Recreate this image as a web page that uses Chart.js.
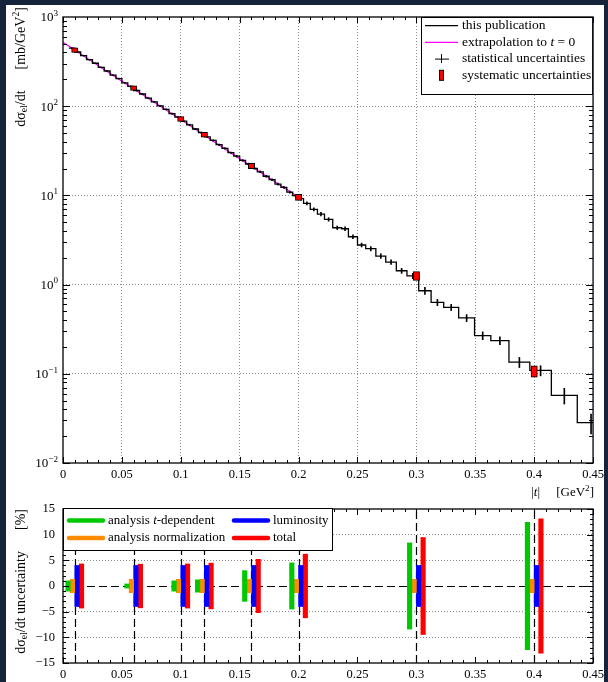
<!DOCTYPE html>
<html>
<head>
<meta charset="utf-8">
<script src="https://cdn.jsdelivr.net/npm/chart.js@4.4.0/dist/chart.umd.min.js"></script>
<style>
  body { margin: 0; width: 608px; height: 682px; overflow: hidden; position: relative; background: #15233b; }
  #paper { position: absolute; left: 6px; top: 5px; width: 598px; height: 677px; background: #fff; }
  #top { position: absolute; left: 0; top: 0; }
  #bot { position: absolute; left: 0; top: 493px; }
</style>
</head>
<body>
<div id="paper"></div>
<canvas id="top" width="608" height="500"></canvas>
<canvas id="bot" width="608" height="189"></canvas>
<script>
// |t| bin edges [GeV^2] of the measured distribution
const binEdges = [
  0.005, 0.010, 0.015, 0.020, 0.025, 0.030, 0.035, 0.040, 0.045, 0.050,
  0.055, 0.060, 0.065, 0.070, 0.075, 0.080, 0.085, 0.090, 0.095, 0.100,
  0.105, 0.110, 0.115, 0.120, 0.125, 0.130, 0.135, 0.140, 0.145, 0.150,
  0.155, 0.160, 0.165, 0.170, 0.175, 0.180, 0.185, 0.190, 0.195, 0.200,
  0.2042, 0.2099, 0.2160, 0.2220, 0.2290, 0.2366, 0.2423, 0.2500, 0.2570, 0.2656,
  0.2740, 0.2830, 0.2920, 0.3020, 0.3125, 0.3232, 0.3359, 0.3494, 0.3632, 0.3786,
  0.3963, 0.4146, 0.4366, 0.4600
];
// dsigma/dt per bin [mb/GeV^2]
const dsdt = [
  448, 405, 369, 332, 303, 272, 248, 223, 204, 183,
  167, 150, 137, 123, 112, 101, 92.0, 82.6, 75.3, 68.1,
  61.9, 55.5, 50.6, 45.3, 41.3, 37.0, 33.7, 30.1, 27.5, 24.7,
  22.5, 20.1, 18.4, 16.4, 15.0, 13.4, 12.3, 10.9, 9.95,
  9.18, 8.13, 6.97, 6.18, 5.38, 4.34, 4.23, 3.44, 2.78, 2.53,
  2.09, 1.79, 1.43, 1.25, 0.853, 0.632, 0.556, 0.423, 0.268, 0.236,
  0.135, 0.109, 0.0573, 0.0283
];
// statistical uncertainty per bin [%]
const statUnc = [
  1.2, 1.0, 1.0, 1.0, 1.0, 1.0, 1.1, 1.1, 1.1, 1.1,
  1.2, 1.2, 1.2, 1.3, 1.3, 1.3, 1.4, 1.4, 1.5, 1.5,
  1.6, 1.6, 1.7, 1.7, 1.8, 1.8, 1.9, 1.9, 2.0, 2.1,
  2.2, 2.2, 2.3, 2.4, 2.5, 2.6, 2.7, 2.8, 2.9,
  3.5, 4, 4, 4.5, 4.5, 4.5, 5, 5, 5, 5.5,
  6, 6, 6.5, 7, 9, 8, 8, 9, 10, 10,
  13, 13, 20, 25
];
// extrapolation to t = 0
const extrapT = [0, 0.05, 0.10, 0.15, 0.20];
const extrapVal = [520, 190, 70.8, 25.7, 9.55];

// points where the systematics are shown
const pointT = [0.01, 0.06, 0.10, 0.12, 0.16, 0.20, 0.30, 0.40];
const pointVal = [425, 160, 72.0, 47.9, 21.4, 9.50, 1.255, 0.107];
const uncTdep = [1.0, 0.4, 1.0, 1.2, 3.0, 4.5, 8.4, 12.4];
const uncNorm = [1.3, 1.3, 1.3, 1.3, 1.3, 1.3, 1.3, 1.3];
const uncLumi = [4.0, 4.0, 4.0, 4.0, 4.0, 4.0, 4.0, 4.0];
const uncTotal = [4.3, 4.25, 4.3, 4.45, 5.2, 6.2, 9.45, 13.1];

const xTicks = [0, 0.05, 0.1, 0.15, 0.2, 0.25, 0.3, 0.35, 0.4, 0.45];
const yDecades = [0.01, 0.1, 1, 10, 100, 1000];
const yPctTicks = [-15, -10, -5, 0, 5, 10, 15];

const FONT = '"Liberation Serif", "Times New Roman", serif';
const GRID = '#8c8c8c';
const NONE = 'rgba(0,0,0,0)';

// draw a piece of text made of several parts (normal / italic / sup / sub)
function drawRich(ctx, parts, x, y, size, align) {
  const fonts = parts.map(p => {
    const k = p[1] || '';
    const s = (k === 'sup' || k === 'sub') ? size * 0.7 : size;
    return (k === 'i' ? 'italic ' : '') + s + 'px ' + FONT;
  });
  let w = 0;
  parts.forEach((p, i) => { ctx.font = fonts[i]; w += ctx.measureText(p[0]).width; });
  let cx = align === 'right' ? x - w : (align === 'center' ? x - w / 2 : x);
  ctx.textAlign = 'left';
  ctx.textBaseline = 'middle';
  parts.forEach((p, i) => {
    const k = p[1] || '';
    const dy = k === 'sup' ? -size * 0.36 : (k === 'sub' ? size * 0.25 : 0);
    ctx.font = fonts[i];
    ctx.fillText(p[0], cx, y + dy);
    cx += ctx.measureText(p[0]).width;
  });
}

function frame(ctx, a) {
  ctx.lineWidth = 1.3;
  ctx.strokeStyle = '#000';
  ctx.strokeRect(a.left, a.top, a.right - a.left, a.bottom - a.top);
}

function xTickMarks(ctx, a, x) {
  ctx.beginPath();
  for (let i = 0; i <= 45; i++) {
    const px = Math.round(x.getPixelForValue(i / 100)) + 0.5;
    const len = i % 5 === 0 ? 6 : 3;
    ctx.moveTo(px, a.bottom); ctx.lineTo(px, a.bottom - len);
    ctx.moveTo(px, a.top); ctx.lineTo(px, a.top + len);
  }
  ctx.stroke();
}

// ---------- top panel ----------
const histPts = dsdt.map((v, i) => ({ x: binEdges[i], y: v }));
histPts.push({ x: binEdges[binEdges.length - 1], y: dsdt[dsdt.length - 1] });

const statBars = dsdt.map((v, i) => ({
  x: (binEdges[i] + binEdges[i + 1]) / 2,
  y: [v * (1 - statUnc[i] / 100), v * (1 + statUnc[i] / 100)]
}));
const systBars = pointT.map((t, i) => ({
  x: t,
  y: [pointVal[i] * (1 - uncTotal[i] / 100), pointVal[i] * (1 + uncTotal[i] / 100)]
}));

const topDecor = {
  id: 'topDecor',
  afterDraw(chart) {
    const { ctx, chartArea: a, scales: { x, y } } = chart;
    ctx.save();
    ctx.strokeStyle = '#000';
    ctx.lineWidth = 1;
    xTickMarks(ctx, a, x);
    ctx.beginPath();
    for (let d = -2; d <= 2; d++) {
      for (let m = 1; m <= 9; m++) {
        const py = Math.round(y.getPixelForValue(m * Math.pow(10, d))) + 0.5;
        const len = m === 1 ? 7 : 4;
        ctx.moveTo(a.left, py); ctx.lineTo(a.left + len, py);
        ctx.moveTo(a.right, py); ctx.lineTo(a.right - len, py);
      }
    }
    ctx.stroke();
    frame(ctx, a);

    ctx.fillStyle = '#000';
    yDecades.forEach(v => {
      const e = Math.round(Math.log10(v));
      drawRich(ctx, [['10'], [e < 0 ? '\u2212' + (-e) : String(e), 'sup']], a.left - 5, y.getPixelForValue(v) + 1, 13, 'right');
    });

    // axis titles
    drawRich(ctx, [['|'], ['t', 'i'], ['|     [GeV'], ['2', 'sup'], [']']], 594, 493, 13, 'right');
    ctx.save();
    ctx.translate(21, 7);
    ctx.rotate(-Math.PI / 2);
    drawRich(ctx, [['d\u03C3'], ['el', 'sub'], ['/dt      [mb/GeV'], ['2', 'sup'], [']']], 0, 0, 14, 'right');
    ctx.restore();

    // legend
    const lx = 421, ly = a.top;
    ctx.fillStyle = '#fff';
    ctx.fillRect(lx, ly, a.right - lx, 95 - ly);
    ctx.lineWidth = 1;
    ctx.strokeStyle = '#000';
    ctx.strokeRect(lx + 0.5, ly + 0.5, a.right - lx - 1, 95 - ly - 1);
    const rows = [25.7, 42.3, 58.6, 75.3];
    ctx.lineWidth = 1.3;
    ctx.beginPath(); ctx.moveTo(425, rows[0]); ctx.lineTo(458, rows[0]); ctx.stroke();
    ctx.strokeStyle = '#ff00ff';
    ctx.beginPath(); ctx.moveTo(425, rows[1]); ctx.lineTo(458, rows[1]); ctx.stroke();
    ctx.strokeStyle = '#000';
    ctx.lineWidth = 1;
    ctx.beginPath();
    ctx.moveTo(435, rows[2] + 0.5); ctx.lineTo(449, rows[2] + 0.5);
    ctx.moveTo(441.5, rows[2] - 4.5); ctx.lineTo(441.5, rows[2] + 4.5);
    ctx.stroke();
    ctx.fillStyle = '#ff0000';
    ctx.fillRect(439.5, rows[3] - 5, 4, 10);
    ctx.strokeRect(439.5, rows[3] - 5, 4, 10);
    ctx.fillStyle = '#000';
    drawRich(ctx, [['this publication']], 462, rows[0], 13.5, 'left');
    drawRich(ctx, [['extrapolation to '], ['t', 'i'], [' = 0']], 462, rows[1], 13.5, 'left');
    drawRich(ctx, [['statistical uncertainties']], 462, rows[2], 13.5, 'left');
    drawRich(ctx, [['systematic uncertainties']], 462, rows[3], 13.5, 'left');
    ctx.restore();
  }
};

new Chart(document.getElementById('top'), {
  type: 'bar',
  data: {
    datasets: [
      { type: 'line', data: extrapT.map((t, i) => ({ x: t, y: extrapVal[i] })), borderColor: '#ff00ff', borderWidth: 1.2, pointRadius: 0, order: 4 },
      { type: 'line', data: histPts, stepped: true, borderColor: '#000', borderWidth: 1.3, pointRadius: 0, order: 3 },
      { type: 'bar', data: statBars, backgroundColor: '#000', barThickness: 1, grouped: false, order: 2 },
      { type: 'bar', data: systBars, backgroundColor: '#ff0000', borderColor: '#000', borderWidth: 1, borderSkipped: false, inflateAmount: 1, barThickness: 5, grouped: false, order: 1 }
    ]
  },
  options: {
    responsive: false,
    animation: false,
    layout: { padding: { left: 0, top: 17, right: 12, bottom: 0 } },
    plugins: { legend: { display: false }, tooltip: { enabled: false } },
    scales: {
      x: {
        type: 'linear', min: 0, max: 0.45, offset: false,
        afterBuildTicks: s => { s.ticks = xTicks.map(v => ({ value: v })); },
        afterFit: s => { s.height = 37; },
        ticks: { color: '#000', font: { family: FONT, size: 12.5 }, padding: 4, maxRotation: 0, autoSkip: false, callback: v => String(v) },
        grid: { offset: false, drawTicks: false, color: c => (c.tick && c.tick.value > 0 && c.tick.value < 0.45) ? GRID : NONE },
        border: { display: false, dash: [1, 2] }
      },
      y: {
        type: 'logarithmic', min: 0.01, max: 1000,
        afterBuildTicks: s => { s.ticks = yDecades.map(v => ({ value: v })); },
        afterFit: s => { s.width = 63; },
        ticks: { display: false },
        grid: { drawTicks: false, color: c => (c.tick && c.tick.value > 0.01 && c.tick.value < 1000) ? GRID : NONE },
        border: { display: false, dash: [1, 2] }
      }
    }
  },
  plugins: [topDecor]
});

// ---------- bottom panel ----------
const botDecor = {
  id: 'botDecor',
  beforeDatasetsDraw(chart) {
    const { ctx, chartArea: a, scales: { x, y } } = chart;
    ctx.save();
    ctx.strokeStyle = '#000';
    ctx.lineWidth = 1.2;
    ctx.setLineDash([8, 4]);
    ctx.beginPath();
    const y0 = Math.round(y.getPixelForValue(0)) + 0.5;
    ctx.moveTo(a.left, y0); ctx.lineTo(a.right, y0);
    pointT.forEach(t => {
      const px = Math.round(x.getPixelForValue(t)) + 0.5;
      ctx.moveTo(px, a.bottom); ctx.lineTo(px, a.top);
    });
    ctx.stroke();
    ctx.restore();
  },
  afterDraw(chart) {
    const { ctx, chartArea: a, scales: { x, y } } = chart;
    ctx.save();
    ctx.strokeStyle = '#000';
    ctx.lineWidth = 1;
    xTickMarks(ctx, a, x);
    ctx.beginPath();
    for (let v = -15; v <= 15; v++) {
      const py = Math.round(y.getPixelForValue(v)) + 0.5;
      const len = v % 5 === 0 ? 6 : 3;
      ctx.moveTo(a.left, py); ctx.lineTo(a.left + len, py);
      ctx.moveTo(a.right, py); ctx.lineTo(a.right - len, py);
    }
    ctx.stroke();
    frame(ctx, a);

    ctx.fillStyle = '#000';
    ctx.save();
    ctx.translate(21, a.top);
    ctx.rotate(-Math.PI / 2);
    drawRich(ctx, [['d\u03C3'], ['el', 'sub'], ['/dt uncertainty      [%]']], 0, 0, 14, 'right');
    ctx.restore();

    // legend
    const lx = a.left, ly = a.top - 1, rx = 333, by = a.top + 42;
    ctx.fillStyle = '#fff';
    ctx.fillRect(lx, ly, rx - lx, by - ly);
    ctx.lineWidth = 1;
    ctx.strokeStyle = '#000';
    ctx.strokeRect(lx + 0.5, ly + 0.5, rx - lx - 1, by - ly - 1);
    const r1 = a.top + 11.5, r2 = a.top + 29;
    const items = [
      { c: '#00c800', x: 68, y: r1, parts: [['analysis '], ['t', 'i'], ['-dependent']] },
      { c: '#ff8c00', x: 68, y: r2, parts: [['analysis normalization']] },
      { c: '#0000ff', x: 233, y: r1, parts: [['luminosity']] },
      { c: '#ff0000', x: 233, y: r2, parts: [['total']] }
    ];
    ctx.lineWidth = 4.5;
    ctx.lineCap = 'round';
    items.forEach(it => {
      ctx.strokeStyle = it.c;
      ctx.beginPath(); ctx.moveTo(it.x + 1, it.y); ctx.lineTo(it.x + 35, it.y); ctx.stroke();
      ctx.fillStyle = '#000';
      drawRich(ctx, it.parts, it.x + 40, it.y, 13, 'left');
    });
    ctx.restore();
  }
};

const pctBars = (arr) => pointT.map((t, i) => ({ x: t, y: [-arr[i], arr[i]] }));

new Chart(document.getElementById('bot'), {
  type: 'bar',
  data: {
    datasets: [
      { label: 'analysis t-dependent', data: pctBars(uncTdep), backgroundColor: '#00c800' },
      { label: 'analysis normalization', data: pctBars(uncNorm), backgroundColor: '#ff8c00' },
      { label: 'luminosity', data: pctBars(uncLumi), backgroundColor: '#0000ff' },
      { label: 'total', data: pctBars(uncTotal), backgroundColor: '#ff0000' }
    ]
  },
  options: {
    responsive: false,
    animation: false,
    datasets: { bar: { barThickness: 4.5, borderWidth: 0 } },
    layout: { padding: { left: 0, top: 16, right: 12, bottom: 0 } },
    plugins: { legend: { display: false }, tooltip: { enabled: false } },
    scales: {
      x: {
        type: 'linear', min: 0, max: 0.45, offset: false,
        afterBuildTicks: s => { s.ticks = xTicks.map(v => ({ value: v })); },
        afterFit: s => { s.height = 19; },
        ticks: { color: '#000', font: { family: FONT, size: 12.5 }, padding: 4, maxRotation: 0, autoSkip: false, callback: v => String(v) },
        grid: { display: false, drawTicks: false, offset: false },
        border: { display: false }
      },
      y: {
        min: -15, max: 15,
        afterBuildTicks: s => { s.ticks = yPctTicks.map(v => ({ value: v })); },
        afterFit: s => { s.width = 63; },
        ticks: { color: '#000', font: { family: FONT, size: 12.5 }, padding: 8, callback: v => v < 0 ? '\u2212' + (-v) : String(v) },
        grid: { drawTicks: false, color: c => (c.tick && c.tick.value !== 0 && Math.abs(c.tick.value) < 15) ? GRID : NONE },
        border: { display: false, dash: [1, 2] }
      }
    }
  },
  plugins: [botDecor]
});
</script>
</body>
</html>
